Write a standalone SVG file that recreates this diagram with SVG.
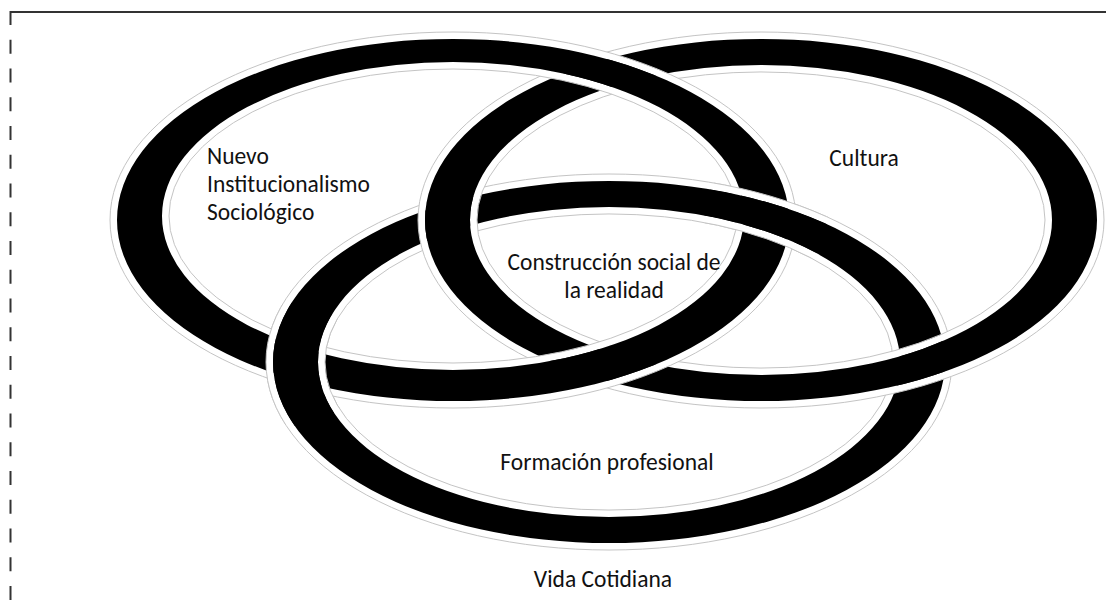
<svg xmlns="http://www.w3.org/2000/svg" width="1106" height="609" viewBox="0 0 1106 609">
<style>
.strip{fill:#fff;fill-rule:evenodd;stroke:none}
.edge{fill:none;stroke:#c4c4c4;stroke-width:1}
.band{fill:#000;fill-rule:evenodd}
.lbl{font-family:Carlito,Lato,"Open Sans",sans-serif;font-size:23.5px;fill:#111}
.frame{stroke:#333;stroke-width:2;fill:none}
</style>
<defs>
<path id="stripA" d="M110,220a343,188 0 1,0 686,0a343,188 0 1,0 -686,0ZM117,220a336,181 0 1,0 672,0a336,181 0 1,0 -672,0ZM162,216a291,154 0 1,0 582,0a291,154 0 1,0 -582,0ZM169,216a284,147 0 1,0 568,0a284,147 0 1,0 -568,0Z"/>
<path id="edgeA" d="M110,220a343,188 0 1,0 686,0a343,188 0 1,0 -686,0ZM169,216a284,147 0 1,0 568,0a284,147 0 1,0 -568,0Z"/>
<path id="bandA" d="M117,220a336,181 0 1,0 672,0a336,181 0 1,0 -672,0ZM162,216a291,154 0 1,0 582,0a291,154 0 1,0 -582,0Z"/>
<path id="stripB" d="M418,220a343,188 0 1,0 686,0a343,188 0 1,0 -686,0ZM425,220a336,181 0 1,0 672,0a336,181 0 1,0 -672,0ZM470,220a291,155 0 1,0 582,0a291,155 0 1,0 -582,0ZM477,220a284,148 0 1,0 568,0a284,148 0 1,0 -568,0Z"/>
<path id="edgeB" d="M418,220a343,188 0 1,0 686,0a343,188 0 1,0 -686,0ZM477,220a284,148 0 1,0 568,0a284,148 0 1,0 -568,0Z"/>
<path id="bandB" d="M425,220a336,181 0 1,0 672,0a336,181 0 1,0 -672,0ZM470,220a291,155 0 1,0 582,0a291,155 0 1,0 -582,0Z"/>
<path id="stripC" d="M266,362a343,188 0 1,0 686,0a343,188 0 1,0 -686,0ZM273,362a336,181 0 1,0 672,0a336,181 0 1,0 -672,0ZM318,362a291,155 0 1,0 582,0a291,155 0 1,0 -582,0ZM325,362a284,148 0 1,0 568,0a284,148 0 1,0 -568,0Z"/>
<path id="edgeC" d="M266,362a343,188 0 1,0 686,0a343,188 0 1,0 -686,0ZM325,362a284,148 0 1,0 568,0a284,148 0 1,0 -568,0Z"/>
<path id="bandC" d="M273,362a336,181 0 1,0 672,0a336,181 0 1,0 -672,0ZM318,362a291,155 0 1,0 582,0a291,155 0 1,0 -582,0Z"/>
<clipPath id="cxLeft"><circle cx="296" cy="364" r="62"/></clipPath>
<clipPath id="cxRight"><circle cx="766" cy="216" r="62"/></clipPath>
</defs>
<g id="frame">
<line class="frame" x1="10" y1="12" x2="1106" y2="12"/>
<line class="frame" x1="10.5" y1="11" x2="10.5" y2="609" stroke-dasharray="14 14.75"/>
</g>
<g id="connectors"></g>
<g id="ring-formacion">
<use href="#stripC" class="strip"/><use href="#edgeC" class="edge"/><use href="#bandC" class="band"/>
</g>
<g id="ring-cultura">
<use href="#stripB" class="strip"/><use href="#edgeB" class="edge"/><use href="#bandB" class="band"/>
</g>
<g id="ring-nuevo-institucionalismo">
<use href="#stripA" class="strip"/><use href="#edgeA" class="edge"/><use href="#bandA" class="band"/>
</g>
<g id="ring-formacion-over">
<g clip-path="url(#cxLeft)"><use href="#stripC" class="strip"/><use href="#edgeC" class="edge"/><use href="#bandC" class="band"/></g>
<g clip-path="url(#cxRight)"><use href="#stripC" class="strip"/><use href="#edgeC" class="edge"/><use href="#bandC" class="band"/></g>
</g>
<g id="node-nuevo">
<text class="lbl" x="207" y="164">Nuevo</text>
<text class="lbl" x="207" y="192">Institucionalismo</text>
<text class="lbl" x="207" y="220">Sociológico</text>
</g>
<g id="node-cultura">
<text class="lbl" x="864" y="166" text-anchor="middle">Cultura</text>
</g>
<g id="node-construccion">
<text class="lbl" x="614" y="270" text-anchor="middle">Construcción social de</text>
<text class="lbl" x="614" y="298" text-anchor="middle">la realidad</text>
</g>
<g id="node-formacion">
<text class="lbl" x="607" y="470" text-anchor="middle">Formación profesional</text>
</g>
<g id="node-vida">
<text class="lbl" x="603" y="587" text-anchor="middle">Vida Cotidiana</text>
</g>
</svg>
